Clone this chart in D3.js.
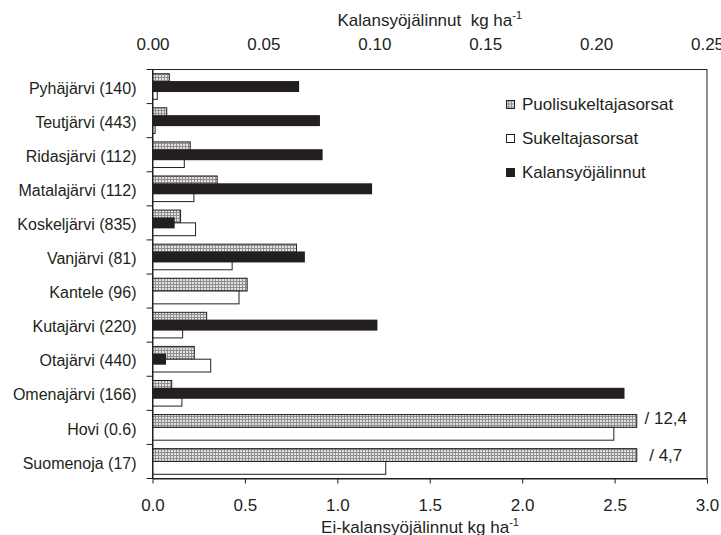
<!DOCTYPE html>
<html><head><meta charset="utf-8">
<script src="https://cdn.jsdelivr.net/npm/d3@7"></script>
<style>
body{margin:0;background:#fff}
text{font-family:"Liberation Sans",Arial,Helvetica,sans-serif;fill:#231f20}
</style></head><body>
<svg id="c" width="721" height="535"></svg>
<script>
// ---- data ----
const categories = ["Pyhäjärvi (140)","Teutjärvi (443)","Ridasjärvi (112)","Matalajärvi (112)","Koskeljärvi (835)","Vanjärvi (81)","Kantele (96)","Kutajärvi (220)","Otajärvi (440)","Omenajärvi (166)","Hovi (0.6)","Suomenoja (17)"];
const seriesNames = ["Puolisukeltajasorsat","Sukeltajasorsat","Kalansyöjälinnut"];
const puolisukeltajasorsat = [0.091,0.077,0.204,0.350,0.152,0.779,0.512,0.293,0.226,0.104,12.4,4.7];
const sukeltajasorsat     = [0.026,0.014,0.172,0.224,0.233,0.431,0.468,0.163,0.315,0.159,2.496,1.262];
const kalansyojalinnut    = [0.0661,0.0755,0.0767,0.0990,0.0100,0.0687,0,0.1014,0.0061,0.2128,0,0];
const bottomTicks = [0,0.5,1.0,1.5,2.0,2.5,3.0];
const topTicks = [0,0.05,0.10,0.15,0.20,0.25];
const axisCap = 2.62; // bars longer than this are drawn broken, with their value written
const bottomTitle = "Ei-kalansyöjälinnut kg ha";
const topTitle = "Kalansyöjälinnut  kg ha";

// ---- layout ----
const m = {left:152.5, right:707, top:69.5, bottom:478.5};
const ink = "#231f20";
const svg = d3.select("#c");

const x = d3.scaleLinear().domain([0,3]).range([m.left,m.right]);
const x2 = d3.scaleLinear().domain([0,0.25]).range([m.left,m.right]);
const y = d3.scaleBand().domain(categories).range([m.top,m.bottom]).padding(0);
const ySub = d3.scaleBand().domain(["p","s"]).range([0,y.bandwidth()]).paddingInner(0).paddingOuter(0.33);
const yK = d3.scaleBand().domain(["k"]).range([0,y.bandwidth()]).paddingInner(0).paddingOuter(1.05);

// pattern
const defs = svg.append("defs");
const pat = defs.append("pattern").attr("id","hatch").attr("patternUnits","userSpaceOnUse")
  .attr("width",3).attr("height",3);
pat.append("rect").attr("width",3).attr("height",3).attr("fill","#8f8f8f");
pat.append("rect").attr("width",2).attr("height",2).attr("fill","#e2e2e2");

const rows = categories.map((c,i)=>({c, p:puolisukeltajasorsat[i], s:sukeltajasorsat[i], k:kalansyojalinnut[i]}));

// bars
const g = svg.append("g");
g.selectAll("rect.p").data(rows).join("rect").attr("class","p")
  .attr("x",x(0)).attr("y",d=>y(d.c)+ySub("p"))
  .attr("width",d=>x(Math.min(d.p,axisCap))-x(0)).attr("height",ySub.bandwidth())
  .attr("fill","url(#hatch)").attr("stroke",ink).attr("stroke-width",1);
g.selectAll("rect.s").data(rows).join("rect").attr("class","s")
  .attr("x",x(0)).attr("y",d=>y(d.c)+ySub("s"))
  .attr("width",d=>x(Math.min(d.s,axisCap))-x(0)).attr("height",ySub.bandwidth())
  .attr("fill","#fff").attr("stroke",ink).attr("stroke-width",1);
g.selectAll("rect.k").data(rows.filter(d=>d.k>0)).join("rect").attr("class","k")
  .attr("x",x2(0)).attr("y",d=>y(d.c)+yK("k"))
  .attr("width",d=>x2(d.k)-x2(0)).attr("height",yK.bandwidth())
  .attr("fill",ink);

// broken-bar value labels
const fmtComma = v => "/ " + String(v).replace(".",",");
g.selectAll("text.cap").data(rows.filter(d=>d.p>axisCap)).join("text").attr("class","cap")
  .attr("x",x(axisCap)+29).attr("y",(d,i)=>y(d.c)+ySub("p")+ySub.bandwidth()/2 - (i===0?3:0))
  .attr("dy","0.35em").attr("text-anchor","middle").attr("font-size",17)
  .text(d=>fmtComma(d.p));

// frame
svg.append("rect").attr("x",m.left).attr("y",m.top).attr("width",m.right-m.left).attr("height",m.bottom-m.top)
  .attr("fill","none").attr("stroke",ink).attr("stroke-width",1);

// bottom axis
const ax = svg.append("g").attr("transform",`translate(0,${m.bottom})`)
  .call(d3.axisBottom(x).tickValues(bottomTicks).tickFormat(d3.format(".1f")).tickSize(5).tickSizeOuter(0).tickPadding(15.5));
ax.attr("font-size",17).attr("font-family",null);
ax.select(".domain").attr("stroke",ink);
ax.selectAll("line").attr("stroke",ink);
ax.selectAll("text").attr("fill",ink);

// top axis (labels only)
const at = svg.append("g").attr("transform",`translate(0,${m.top})`)
  .call(d3.axisTop(x2).tickValues(topTicks).tickFormat(d3.format(".2f")).tickSize(0).tickPadding(19.5));
at.attr("font-size",17).attr("font-family",null);
at.select(".domain").remove();
at.selectAll("text").attr("fill",ink);

// left axis
const al = svg.append("g").attr("transform",`translate(${m.left},0)`)
  .call(d3.axisLeft(y).tickSize(0).tickPadding(16));
al.attr("font-size",16).attr("font-family",null);
al.select(".domain").attr("stroke",ink);
al.selectAll("text").attr("fill",ink).attr("dy","0.45em");
const bounds = categories.map(c=>y(c)).concat([y(categories[categories.length-1])+y.step()]);
svg.append("g").selectAll("line").data(bounds).join("line")
  .attr("x1",m.left-6).attr("x2",m.left).attr("y1",d=>d).attr("y2",d=>d).attr("stroke",ink);

// titles
const tt = svg.append("text").attr("x",(m.left+m.right)/2).attr("y",26).attr("text-anchor","middle")
  .attr("font-size",17).style("white-space","pre");
tt.append("tspan").text(topTitle);
tt.append("tspan").attr("font-size",11).attr("dy",-7).text("-1");
const bt = svg.append("text").attr("x",420).attr("y",533).attr("text-anchor","middle")
  .attr("font-size",17).style("white-space","pre");
bt.append("tspan").text(bottomTitle);
bt.append("tspan").attr("font-size",11).attr("dy",-7).text("-1");

// legend
const legFill = ["url(#hatch)","#fff",ink];
const leg = svg.append("g").selectAll("g").data(seriesNames).join("g")
  .attr("transform",(d,i)=>`translate(506,${104.5+i*34})`);
leg.append("rect").attr("x",0.5).attr("y",-4).attr("width",8).attr("height",8)
  .attr("fill",(d,i)=>legFill[i]).attr("stroke",ink).attr("stroke-width",1);
leg.append("text").attr("x",16).attr("dy","0.35em").attr("font-size",17).text(d=>d);
</script>
</body></html>
